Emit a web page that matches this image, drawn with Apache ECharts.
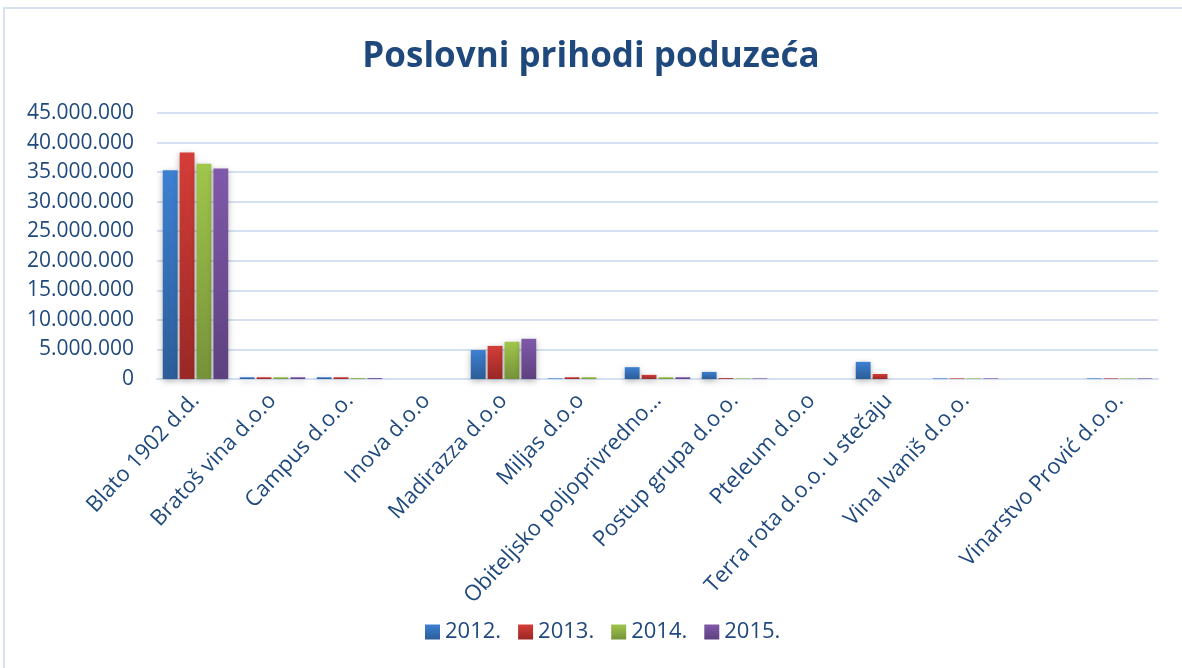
<!DOCTYPE html>
<html>
<head>
<meta charset="utf-8">
<script src="https://cdn.jsdelivr.net/npm/echarts@6/dist/echarts.min.js"></script>
<style>
  html, body { margin: 0; padding: 0; background: #fff; }
  #chart { width: 1182px; height: 668px; }
</style>
</head>
<body>
<div id="chart"></div>
<script>
var companies = ['Blato 1902 d.d.', 'Bratoš vina d.o.o', 'Campus d.o.o.', 'Inova d.o.o', 'Madirazza d.o.o',
    'Miljas d.o.o', 'Obiteljsko poljoprivredno…', 'Postup grupa d.o.o.', 'Pteleum d.o.o',
    'Terra rota d.o.o. u stečaju', 'Vina Ivaniš d.o.o.', '', 'Vinarstvo Prović d.o.o.'];
var years = ['2012.', '2013.', '2014.', '2015.'];
var y2012 = [35300000, 300000, 300000, 0, 4900000, 100000, 2000000, 1200000, 0, 2900000, 100000, 0, 100000];
var y2013 = [38300000, 300000, 300000, 0, 5600000, 300000, 700000, 150000, 0, 850000, 100000, 0, 100000];
var y2014 = [36400000, 300000, 150000, 0, 6300000, 300000, 300000, 100000, 0, 0, 100000, 0, 100000];
var y2015 = [35600000, 300000, 150000, 0, 6800000, 0, 300000, 100000, 0, 0, 100000, 0, 100000];

var textCol = '#1F497D';
var font = '"Open Sans", "Noto Sans", sans-serif';

// top / bottom colours of each bar gradient
var cols = [
    ['#3D80D2', '#2C5D98'],
    ['#D43D38', '#992826'],
    ['#A0C64B', '#76923A'],
    ['#8059AA', '#5D417F']
];

function grad(c) {
    return new echarts.graphic.LinearGradient(0, 0, 0, 1, [
        { offset: 0, color: c[0] },
        { offset: 1, color: c[1] }
    ]);
}

function fmt(v) {
    return String(v).replace(/\B(?=(\d{3})+(?!\d))/g, '.');
}

var allData = [y2012, y2013, y2014, y2015];
var series = [];
for (var i = 0; i < years.length; i++) {
    series.push({
        name: years[i],
        type: 'bar',
        data: allData[i],
        barGap: '14%',
        barCategoryGap: '15%',
        itemStyle: {
            color: grad(cols[i]),
            shadowBlur: 6,
            shadowColor: 'rgba(0,0,0,0.3)',
            shadowOffsetY: 2
        }
    });
}

var myChart = echarts.init(document.getElementById('chart'));
var option = {
    animation: false,
    backgroundColor: '#fff',
    graphic: [{
        type: 'rect',
        shape: { x: 4, y: 8, width: 1200, height: 680 },
        style: { fill: 'none', stroke: '#D5E0F0', lineWidth: 2 },
        silent: true
    }],
    title: {
        text: 'Poslovni prihodi poduzeća',
        left: 'center',
        top: 35,
        textStyle: { color: textCol, fontSize: 35, fontWeight: 'bold', fontFamily: font }
    },
    legend: {
        data: years,
        bottom: 20,
        left: 420,
        itemWidth: 15,
        itemHeight: 15,
        itemGap: 17,
        icon: 'rect',
        textStyle: { color: textCol, fontSize: 22, fontFamily: font }
    },
    grid: { left: 157, right: 24, top: 113, bottom: 289 },
    xAxis: {
        type: 'category',
        data: companies,
        axisTick: { show: false },
        axisLine: { lineStyle: { color: '#D5E1F2', width: 2 } },
        axisLabel: {
            rotate: 47,
            interval: 0,
            margin: 18,
            color: textCol,
            fontSize: 22,
            fontFamily: font
        }
    },
    yAxis: {
        type: 'value',
        min: 0,
        max: 45000000,
        interval: 5000000,
        axisLine: { show: false },
        axisTick: { show: false },
        splitLine: { lineStyle: { color: '#D5E1F2', width: 2 } },
        axisLabel: {
            margin: 23,
            color: textCol,
            fontSize: 21,
            fontFamily: font,
            formatter: fmt
        }
    },
    series: series
};
myChart.setOption(option);
</script>
</body>
</html>
